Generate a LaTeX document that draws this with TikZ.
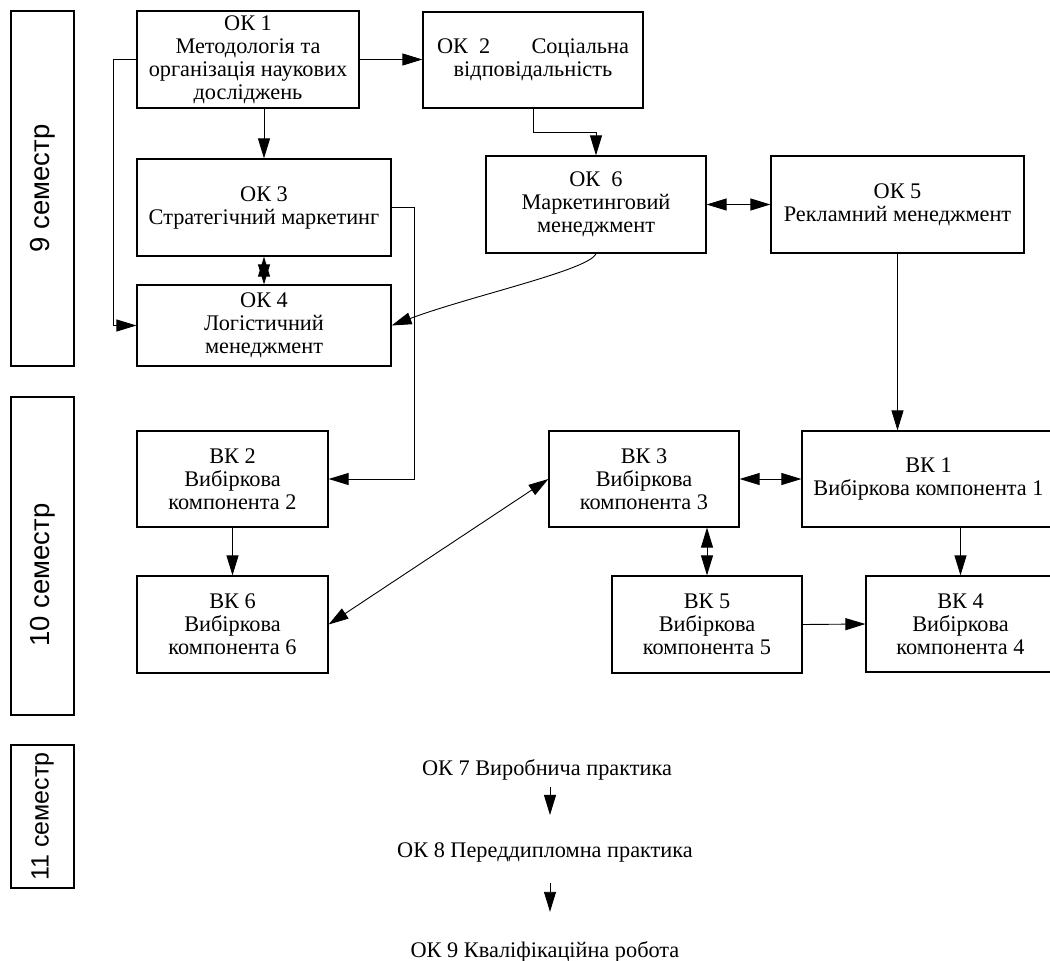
\documentclass[tikz,border=0pt]{standalone}
\usepackage{fontspec}
\setmainfont{Liberation Serif}
\newfontfamily\semfont{Liberation Sans}
\usetikzlibrary{arrows.meta}
\begin{document}
\begin{tikzpicture}[x=1pt,y=-1pt,
  box/.style={draw, line width=1.2pt, inner sep=0pt, align=center, font=\fontsize{22.3}{23}\selectfont},
  sem/.style={draw, line width=1.2pt, rotate=90, minimum height=63pt, inner sep=0pt, font=\semfont\fontsize{27.5}{30}\selectfont},
  arr/.style={line width=0.9pt, -{Triangle[length=20pt,width=12pt]}},
  darr/.style={line width=0.9pt, {Triangle[length=20pt,width=12pt]}-{Triangle[length=20pt,width=12pt]}},
  plain/.style={font=\fontsize{22.3}{23}\selectfont, inner sep=0pt}
]
\useasboundingbox (0,0) rectangle (1050,961);
\clip (0,0) rectangle (1050,961);

% semester boxes
\node[sem, minimum width=355pt] (S9) at (42.5,188.5) {9 семестр};
\node[sem, minimum width=318pt] (S10) at (42.5,556) {10 семестр\hspace*{38pt}};
\node[sem, minimum width=143pt, font=\semfont\fontsize{25}{28}\selectfont] (S11) at (42.5,816.5) {11 семестр};

% 9th semester
\node[box, minimum width=222pt, minimum height=97pt] (OK1) at (248,59.5) {ОК 1\\Методологія та\\організація наукових\\досліджень};
\node[box, minimum width=220pt, minimum height=96pt] (OK2) at (533,60) {\makebox[192pt]{ОК\ \ 2\hfill Соціальна}\\відповідальність};
\node[box, minimum width=254pt, minimum height=97pt] (OK3) at (264,207.5) {ОК 3\\Стратегічний маркетинг};
\node[box, minimum width=254pt, minimum height=81pt] (OK4) at (264,325.5) {ОК 4\\Логістичний\\менеджмент};
\node[box, minimum width=220pt, minimum height=97pt] (OK6) at (596,204.5) {ОК\ \ 6\\Маркетинговий\\менеджмент};
\node[box, minimum width=253pt, minimum height=97pt] (OK5) at (897.5,204.5) {ОК 5\\Рекламний менеджмент};

% 10th semester
\node[box, minimum width=191pt, minimum height=96pt] (VK2) at (232.5,479) {ВК 2\\Вибіркова\\компонента 2};
\node[box, minimum width=191pt, minimum height=97pt] (VK6) at (232.5,624.5) {ВК 6\\Вибіркова\\компонента 6};
\node[box, minimum width=190pt, minimum height=96pt] (VK3) at (644,479) {ВК 3\\Вибіркова\\компонента 3};
\node[box, minimum width=190pt, minimum height=97pt] (VK5) at (707,624.5) {ВК 5\\Вибіркова\\компонента 5};
\node[box, minimum width=253pt, minimum height=96pt] (VK1) at (928.5,479) {ВК 1\\Вибіркова компонента 1};
\node[box, minimum width=189pt, minimum height=96pt] (VK4) at (960.5,624) {ВК 4\\Вибіркова\\компонента 4};

% 11th semester
\node[plain, anchor=base] (OK7) at (547,775) {ОК 7 Виробнича практика};
\node[plain, anchor=base] (OK8) at (545,857) {ОК 8 Переддипломна практика};
\node[plain, anchor=base] (OK9) at (545,957) {ОК 9 Кваліфікаційна робота};

% connectors
\draw[arr] (OK1.east) -- (OK1.east -| OK2.west);
\draw[arr] (OK1.south -| OK3.north) -- (OK3.north);
\draw[arr] (OK1.west) -- ++(-23,0) |- (OK4.west);
\draw[darr] (OK3.south) -- (OK4.north);
\draw[arr] (OK3.east) -- ++(23,0) |- (VK2.east);
\draw[arr] (OK2.south) -- ++(0,24) -| (OK6.north);
\draw[darr] (OK6.east) -- (OK5.west);
\draw[arr] (OK6.south) .. controls (590,270) and (470,296) .. (OK4.east);
\draw[arr] (OK5.south) -- (OK5.south |- VK1.north);
\draw[arr] (VK2.south) -- (VK6.north);
\draw[darr] (VK6.east) -- (VK3.west);
\draw[darr] (VK3.east) -- (VK1.west);
\draw[darr] (VK5.north |- VK3.south) -- (VK5.north);
\draw[arr] (VK4.north |- VK1.south) -- (VK4.north);
\draw[arr] (VK5.east) -- (VK4.west);
\draw[arr] ([xshift=3pt,yshift=-7pt]OK7.south) -- ([xshift=5pt,yshift=27pt]OK8.north);
\draw[arr] ([xshift=5pt,yshift=-21pt]OK8.south) -- ([xshift=5pt,yshift=29pt]OK9.north);
\end{tikzpicture}
\end{document}
